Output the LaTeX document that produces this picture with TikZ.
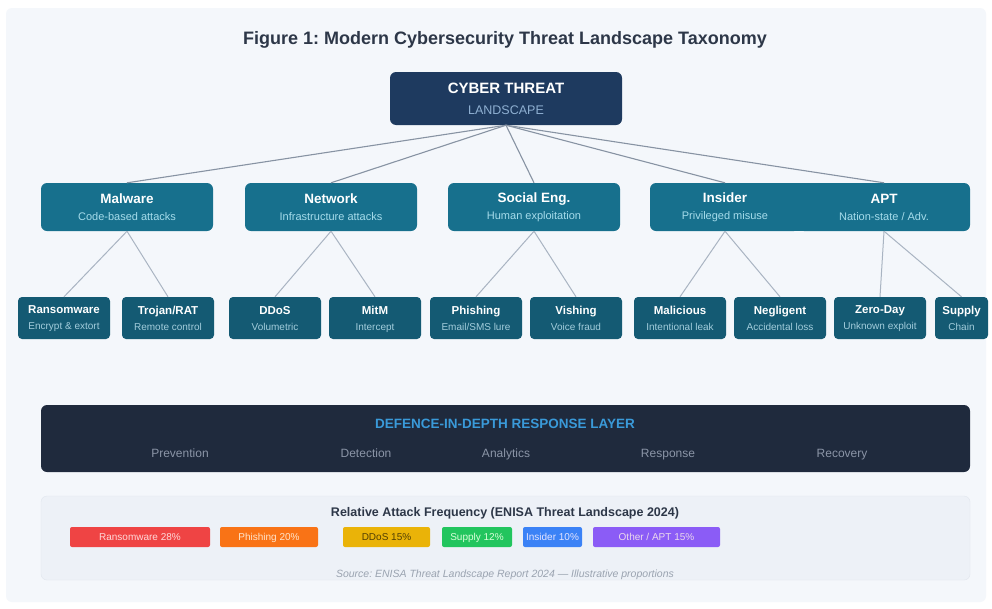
\documentclass[tikz,border=0pt]{standalone}
\usepackage{fontspec}
\setmainfont{Liberation Sans}
\frenchspacing
\definecolor{pagebg}{HTML}{F4F7FB}
\definecolor{titletxt}{HTML}{2D3748}
\definecolor{rootfill}{HTML}{1E3A5F}
\definecolor{rootsub}{HTML}{8FB0D2}
\definecolor{catfill}{HTML}{17708D}
\definecolor{catsub}{HTML}{A6DCEB}
\definecolor{leaffill}{HTML}{145A73}
\definecolor{leafsub}{HTML}{A3CDDC}
\definecolor{linkcol}{HTML}{8793A3}
\definecolor{leaflink}{HTML}{A9B4C2}
\definecolor{deffill}{HTML}{1F2A3D}
\definecolor{deftitle}{HTML}{3A9AD9}
\definecolor{defitem}{HTML}{8B95A7}
\definecolor{freqfill}{HTML}{EDF1F7}
\definecolor{freqline}{HTML}{E1E6EE}
\definecolor{srctxt}{HTML}{9AA3B0}
\definecolor{barred}{HTML}{EF4444}
\definecolor{barorange}{HTML}{F97316}
\definecolor{baryellow}{HTML}{EAB308}
\definecolor{bargreen}{HTML}{22C55E}
\definecolor{barblue}{HTML}{3B82F6}
\definecolor{barpurple}{HTML}{8B5CF6}
\begin{document}
\begin{tikzpicture}[x=1pt,y=-1pt,
    rootbox/.style={fill=rootfill, rounded corners=6pt, minimum width=232pt, minimum height=53pt,
      inner sep=0pt, align=center, text=white, font=\fontsize{15}{17}\selectfont},
    catbox/.style={fill=catfill, rounded corners=6pt, minimum width=172pt, minimum height=48pt,
      inner sep=0pt, align=center, text=white, font=\fontsize{13.5}{15}\selectfont},
    leafbox/.style={fill=leaffill, rounded corners=4pt, minimum width=92pt, minimum height=42pt,
      inner sep=0pt, align=center, text=white, text depth=-5pt, font=\fontsize{11.5}{13}\selectfont},
    link/.style={draw=linkcol, line width=1.1pt},
    leaflink/.style={draw=leaflink, line width=1pt},
    defitem/.style={text=defitem, anchor=base, font=\fontsize{12}{14}\selectfont},
    bar/.style={rounded corners=2pt, minimum height=20pt, inner sep=0pt, text height=7.3pt,
      text depth=0pt, font=\fontsize{10}{12}\selectfont}]
  \useasboundingbox (0,0) rectangle (992,608);
  \fill [white] (0,0) rectangle (992,608);
  \fill [pagebg, rounded corners=6pt] (6,8) rectangle (986,602);

  % title
  \node [text=titletxt, font=\bfseries\fontsize{18}{21}\selectfont] (title) at (505,40)
    {Figure 1: Modern Cybersecurity Threat Landscape Taxonomy};

  % root
  \node [rootbox] (root) at (506,98.5)
    {\textbf{CYBER THREAT}\\[4pt]{\fontsize{12.5}{14}\selectfont\color{rootsub}LANDSCAPE}};

  % categories
  \node [catbox] (mal) at (127,207)
    {\textbf{Malware}\\[2pt]{\fontsize{11}{13}\selectfont\color{catsub}Code-based attacks}};
  \node [catbox] (net) at (331,207)
    {\textbf{Network}\\[2pt]{\fontsize{11}{13}\selectfont\color{catsub}Infrastructure attacks}};
  \node [catbox] (soc) at (534,207)
    {\textbf{Social Eng.}\\[2pt]{\fontsize{11}{13}\selectfont\color{catsub}Human exploitation}};
  \node [catbox, minimum width=150pt] (ins) at (725,207)
    {\textbf{Insider}\\[2pt]{\fontsize{11}{13}\selectfont\color{catsub}Privileged misuse}};
  % insider and apt boxes run together
  \fill [catfill] (790,183) rectangle (812,231);
  \node [catbox] (apt) at (884,207)
    {\textbf{APT}\\[2pt]{\fontsize{11}{13}\selectfont\color{catsub}Nation-state / Adv.}};

  % leaves
  \node [leafbox] (ran) at (64,318)
    {\textbf{Ransomware}\\[3pt]{\fontsize{10}{12}\selectfont\color{leafsub}Encrypt \& extort}};
  \node [leafbox] (tro) at (168,318)
    {\textbf{Trojan/RAT}\\[3pt]{\fontsize{10}{12}\selectfont\color{leafsub}Remote control}};
  \node [leafbox] (dos) at (275,318)
    {\textbf{DDoS}\\[3pt]{\fontsize{10}{12}\selectfont\color{leafsub}Volumetric}};
  \node [leafbox] (mit) at (375,318)
    {\textbf{MitM}\\[3pt]{\fontsize{10}{12}\selectfont\color{leafsub}Intercept}};
  \node [leafbox] (phi) at (476,318)
    {\textbf{Phishing}\\[3pt]{\fontsize{10}{12}\selectfont\color{leafsub}Email/SMS lure}};
  \node [leafbox] (vis) at (576,318)
    {\textbf{Vishing}\\[3pt]{\fontsize{10}{12}\selectfont\color{leafsub}Voice fraud}};
  \node [leafbox] (mcs) at (680,318)
    {\textbf{Malicious}\\[3pt]{\fontsize{10}{12}\selectfont\color{leafsub}Intentional leak}};
  \node [leafbox] (neg) at (780,318)
    {\textbf{Negligent}\\[3pt]{\fontsize{10}{12}\selectfont\color{leafsub}Accidental loss}};
  \node [leafbox] (zer) at (880,318)
    {\textbf{Zero-Day}\\[3pt]{\fontsize{10}{12}\selectfont\color{leafsub}Unknown exploit}};
  \node [leafbox, minimum width=53pt] (sup) at (961.5,318)
    {\textbf{Supply}\\[3pt]{\fontsize{10}{12}\selectfont\color{leafsub}Chain}};

  % root to categories
  \draw [link] (root.south) -- (mal.north);
  \draw [link] (root.south) -- (net.north);
  \draw [link] (root.south) -- (soc.north);
  \draw [link] (root.south) -- (ins.north);
  \draw [link] (root.south) -- (apt.north);

  % categories to leaves
  \draw [leaflink] (mal.south) -- (ran.north);
  \draw [leaflink] (mal.south) -- (tro.north);
  \draw [leaflink] (net.south) -- (dos.north);
  \draw [leaflink] (net.south) -- (mit.north);
  \draw [leaflink] (soc.south) -- (phi.north);
  \draw [leaflink] (soc.south) -- (vis.north);
  \draw [leaflink] (ins.south) -- (mcs.north);
  \draw [leaflink] (ins.south) -- (neg.north);
  \draw [leaflink] (apt.south) -- (zer.north);
  \draw [leaflink] (apt.south) -- (sup.north);

  % defence layer
  \node [fill=deffill, rounded corners=6pt, minimum width=929pt, minimum height=67pt, inner sep=0pt]
    (def) at (505.5,438.5) {};
  \node [text=deftitle, font=\bfseries\fontsize{13.5}{15}\selectfont] (deft) at (505,424)
    {DEFENCE-IN-DEPTH RESPONSE LAYER};
  \node [defitem] (prev) at (180,457) {Prevention};
  \node [defitem] (detc) at (366,457) {Detection};
  \node [defitem] (anal) at (506,457) {Analytics};
  \node [defitem] (resp) at (668,457) {Response};
  \node [defitem] (reco) at (842,457) {Recovery};

  % frequency panel
  \node [fill=freqfill, draw=freqline, rounded corners=6pt, minimum width=929pt, minimum height=84pt,
    inner sep=0pt] (freq) at (505.5,538) {};
  \node [text=titletxt, font=\bfseries\fontsize{12.5}{14}\selectfont] (freqt) at (505,513)
    {Relative Attack Frequency (ENISA Threat Landscape 2024)};
  \node [bar, fill=barred, minimum width=140pt, text=red!15] (b1) at (140,537) {Ransomware 28\%};
  \node [bar, fill=barorange, minimum width=98pt, text=orange!20] (b2) at (269,537) {Phishing 20\%};
  \node [bar, fill=baryellow, minimum width=87pt, text=black!65!baryellow] (b3) at (386.5,537) {DDoS 15\%};
  \node [bar, fill=bargreen, minimum width=70pt, text=green!15] (b4) at (477,537) {Supply 12\%};
  \node [bar, fill=barblue, minimum width=59pt, text=blue!10] (b5) at (552.5,537) {Insider 10\%};
  \node [bar, fill=barpurple, minimum width=127pt, text=violet!15] (b6) at (656.5,537) {Other / APT 15\%};
  \node [text=srctxt, font=\itshape\fontsize{10.5}{12}\selectfont] (src) at (505,575)
    {Source: ENISA Threat Landscape Report 2024 — Illustrative proportions};
\end{tikzpicture}
\end{document}
